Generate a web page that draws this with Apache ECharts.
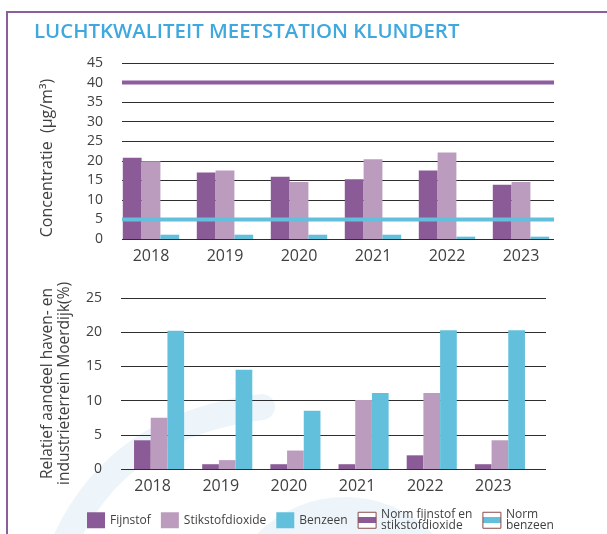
<!DOCTYPE html>
<html>
<head>
<meta charset="utf-8">
<script src="https://cdn.jsdelivr.net/npm/echarts@6/dist/echarts.min.js"></script>
<style>
  html, body { margin: 0; padding: 0; background: #fff; }
  #main { width: 607px; height: 534px; }
</style>
</head>
<body>
<div id="main"></div>
<script>
  // jaren
  var years = ['2018', '2019', '2020', '2021', '2022', '2023'];
  // concentratie (µg/m3)
  var concFijnstof = [20.8, 17.0, 15.9, 15.3, 17.5, 13.9];
  var concStikstof = [19.9, 17.5, 14.6, 20.4, 22.1, 14.6];
  var concBenzeen = [1.1, 1.1, 1.1, 1.1, 0.6, 0.6];
  // normen
  var normFijnstof = 40;
  var normBenzeen = 5;
  // relatief aandeel haven- en industrieterrein (%)
  var aandeelFijnstof = [4.2, 0.7, 0.7, 0.7, 2.0, 0.7];
  var aandeelStikstof = [7.5, 1.3, 2.7, 10.1, 11.1, 4.2];
  var aandeelBenzeen = [20.2, 14.5, 8.5, 11.1, 20.3, 20.3];

  var cPaars = '#8b5b97';
  var cLila = '#bc9cbe';
  var cBlauw = '#63c0dc';
  var txt = '#404040';
  var font = 'Open Sans';

  var band = function (c) {
    return {
      type: 'linear', x: 0, y: 0, x2: 0, y2: 1,
      colorStops: [
        { offset: 0, color: '#fff' }, { offset: 0.28, color: '#fff' },
        { offset: 0.28, color: c }, { offset: 0.66, color: c },
        { offset: 0.66, color: '#fff' }, { offset: 1, color: '#fff' }
      ]
    };
  };

  var chart = echarts.init(document.getElementById('main'));

  var hidden = function (grid, bg) {
    return { type: 'category', gridIndex: grid, data: years, show: false, boundaryGap: bg };
  };
  var yLines = function (grid, max, name, gap, size, shift) {
    return {
      type: 'value', gridIndex: grid, min: 0, max: max, interval: 5,
      axisLine: { show: false }, axisTick: { show: false },
      axisLabel: { color: txt, fontSize: 14, fontFamily: font, margin: 19 },
      splitLine: { lineStyle: { color: '#2e2e2e', width: 1 } },
      name: name, nameLocation: 'middle', nameGap: gap,
      nameTextStyle: { color: txt, fontSize: size, fontFamily: font, lineHeight: 17, padding: [0, shift, 0, 0] }
    };
  };
  var xBars = function (grid, shift) {
    return {
      type: 'category', gridIndex: grid, data: years,
      axisLine: { show: false }, axisTick: { show: false },
      axisLabel: { color: txt, fontSize: 16, fontFamily: font, margin: 9, padding: [0, shift, 0, 0] }
    };
  };
  var bar = function (name, grid, data, color, w) {
    return {
      name: name, type: 'bar', xAxisIndex: grid, yAxisIndex: grid, data: data,
      barWidth: w, barGap: '0%', itemStyle: { color: color }, z: 2, silent: true
    };
  };
  var norm = function (name, value, color) {
    return {
      name: name, type: 'line', xAxisIndex: 0, yAxisIndex: 0,
      data: years.map(function () { return value; }),
      symbol: 'none', lineStyle: { color: color, width: 4 }, itemStyle: { color: color }, z: 5, silent: true
    };
  };

  var option = {
    animation: false,
    title: {
      text: 'LUCHTKWALITEIT MEETSTATION KLUNDERT',
      left: 29, top: 17,
      textStyle: { color: '#3ea8df', fontSize: 20.4, fontWeight: 600, fontFamily: font }
    },
    graphic: [
      // watermerk
      { type: 'bezierCurve', z: -10, silent: true,
        shape: { x1: 62, y1: 548, cpx1: 115, cpy1: 425, x2: 262, y2: 407 },
        style: { stroke: '#edf5fb', lineWidth: 26, lineCap: 'round', fill: null } },
      { type: 'circle', z: -10, silent: true, shape: { cx: 345, cy: 620, r: 123 }, style: { fill: '#edf5fb' } },
      // kader
      { type: 'polyline', z: 10, silent: true, shape: { points: [[7, 534], [7, 12], [607, 12]] },
        style: { stroke: '#8b5e9c', lineWidth: 2, fill: null } }
    ],
    legend: {
      left: 82, top: 504, itemWidth: 18, itemHeight: 16, itemGap: 10,
      selectedMode: false,
      textStyle: { color: txt, fontSize: 12, fontFamily: font, lineHeight: 10.5 },
      data: [
        { name: 'Fijnstof', icon: 'rect' },
        { name: 'Stikstofdioxide', icon: 'rect' },
        { name: 'Benzeen', icon: 'rect' },
        { name: 'Norm fijnstof en\nstikstofdioxide', icon: 'rect',
          itemStyle: { color: band(cPaars), borderColor: '#8a4b4b', borderWidth: 1 } },
        { name: 'Norm\nbenzeen', icon: 'rect',
          itemStyle: { color: band(cBlauw), borderColor: '#8a4b4b', borderWidth: 1 } }
      ]
    },
    grid: [
      { left: 122, top: 63, width: 432, height: 176 },
      { left: 114, top: 63, width: 444, height: 176 },
      { left: 121, top: 298, width: 425, height: 171 },
      { left: 125, top: 298, width: 409, height: 171 }
    ],
    xAxis: [hidden(0, false), xBars(1, 0), hidden(2, true), xBars(3, 13)],
    yAxis: [
      yLines(0, 45, 'Concentratie  (µg/m³)', 66, 16, 14),
      { type: 'value', gridIndex: 1, min: 0, max: 45, show: false },
      yLines(2, 25, 'Relatief aandeel haven- en\nindustrieterrein Moerdijk(%)', 48, 15.5, 0),
      { type: 'value', gridIndex: 3, min: 0, max: 25, show: false }
    ],
    series: [
      bar('Fijnstof', 1, concFijnstof, cPaars, 18.8),
      bar('Stikstofdioxide', 1, concStikstof, cLila, 18.8),
      bar('Benzeen', 1, concBenzeen, cBlauw, 18.8),
      norm('Norm fijnstof en\nstikstofdioxide', normFijnstof, '#8e5d9f'),
      norm('Norm\nbenzeen', normBenzeen, cBlauw),
      bar('Fijnstof', 3, aandeelFijnstof, cPaars, 16.7),
      bar('Stikstofdioxide', 3, aandeelStikstof, cLila, 16.7),
      bar('Benzeen', 3, aandeelBenzeen, cBlauw, 16.7)
    ]
  };

  chart.setOption(option);
</script>
</body>
</html>
